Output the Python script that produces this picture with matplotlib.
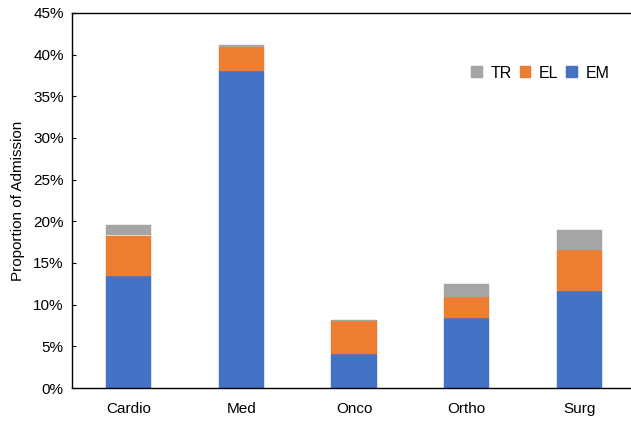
import numpy as np
from matplotlib import pyplot as plt
from matplotlib.ticker import PercentFormatter

plt.rcParams['font.family'] = ['Liberation Sans', 'DejaVu Sans']
plt.rcParams['font.size'] = 11

departments = ['Cardio', 'Med', 'Onco', 'Ortho', 'Surg']
em = [13.5, 38.0, 4.1, 8.4, 11.6]
el = [4.8, 2.9, 3.9, 2.5, 4.9]
tr = [1.2, 0.3, 0.2, 1.6, 2.4]

fig = plt.figure(figsize=(6.31, 4.22), dpi=100)
ax = fig.add_axes([72 / 631, 34 / 422, 564 / 631, 375 / 422])

x = np.arange(len(departments))
w = 0.4
em_bars = ax.bar(x, em, w, color='#4472C4', edgecolor='#4472C4', linewidth=0.3, label='EM')
el_bars = ax.bar(x, el, w, bottom=em, color='#ED7D31', edgecolor='#ED7D31', linewidth=0.3, label='EL')
bottom_tr = np.array(em) + np.array(el)
tr_bars = ax.bar(x, tr, w, bottom=bottom_tr, color='#A5A5A5', edgecolor='#A5A5A5', linewidth=0.3, label='TR')

ax.set_xlim(-0.5, 4.5)
ax.set_ylim(0, 45)
ax.set_yticks(np.arange(0, 46, 5))
ax.yaxis.set_major_formatter(PercentFormatter(decimals=0))
ax.set_xticks(x)
ax.set_xticklabels(departments)
ax.set_ylabel('Proportion of Admission', labelpad=6)

ax.spines['right'].set_visible(False)
for s in ['left', 'top', 'bottom']:
    ax.spines[s].set_color('black')
    ax.spines[s].set_linewidth(1.0)
ax.tick_params(axis='y', direction='in', length=3, pad=6)
ax.tick_params(axis='x', length=0, pad=10)

ax.legend(handles=[tr_bars, el_bars, em_bars], ncol=3, frameon=False,
          loc='center right', bbox_to_anchor=(624 / 631, (422 - 73) / 422),
          bbox_transform=fig.transFigure, handlelength=0.7, handleheight=0.7,
          handletextpad=0.5, columnspacing=0.5, fontsize=11.5)

fig.savefig('out.png', dpi=100)
